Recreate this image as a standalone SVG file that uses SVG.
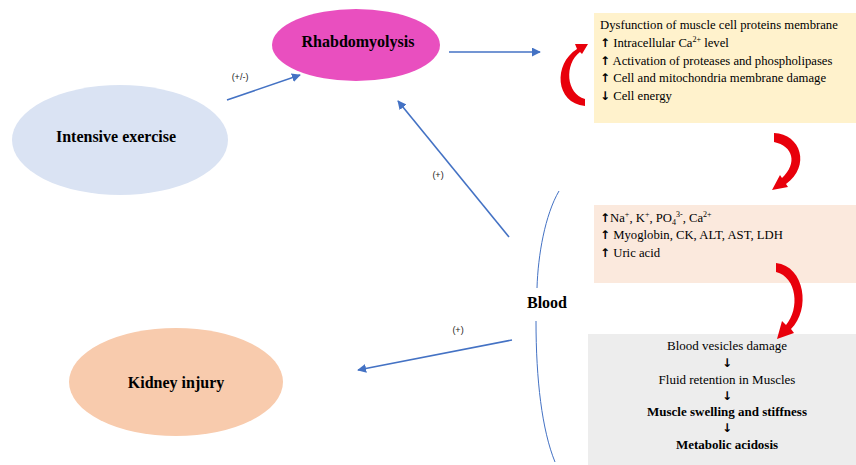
<svg xmlns="http://www.w3.org/2000/svg" width="856" height="465" viewBox="0 0 856 465">
<defs>
<style>
.t{font-family:"Liberation Serif","Times New Roman",serif;fill:#000}
.b{font-weight:bold}
.s{font-size:12.7px}
.g{font-size:13px}
.n{font-size:16px;font-weight:bold}
.ar{font-family:"DejaVu Sans",sans-serif;font-weight:bold;font-size:12px}
.lab{font-family:"Liberation Sans",Arial,sans-serif;font-size:9px;fill:#222}
.con{stroke:#4472C4;stroke-width:1.6;fill:none}
.red{fill:#E8000B}
</style>
<marker id="ah" viewBox="0 0 10 10" refX="9" refY="5" markerWidth="9" markerHeight="9" markerUnits="userSpaceOnUse" orient="auto">
<path d="M0,0 L10,5 L0,10 Z" fill="#4472C4"/>
</marker>
</defs>
<rect width="856" height="465" fill="#fff"/>

<g id="box-cell">
<rect x="594" y="13" width="262" height="110" fill="#FFF2CC"/>
<text class="t s" x="600" y="29">Dysfunction of muscle cell proteins membrane</text>
<text class="t s" x="600" y="47"><tspan class="ar">↑</tspan> Intracellular Ca<tspan font-size="8" dy="-5">2+</tspan><tspan dy="5"> level</tspan></text>
<text class="t s" x="600" y="65"><tspan class="ar">↑</tspan> Activation of proteases and phospholipases</text>
<text class="t s" x="600" y="82"><tspan class="ar">↑</tspan> Cell and mitochondria  membrane damage</text>
<text class="t s" x="600" y="100"><tspan class="ar">↓</tspan> Cell energy</text>
</g>

<g id="box-blood">
<rect x="594" y="205" width="262" height="78" fill="#FBE9DD"/>
<text class="t s" x="600" y="222"><tspan class="ar">↑</tspan>Na<tspan font-size="8" dy="-5">+</tspan><tspan dy="5">, K</tspan><tspan font-size="8" dy="-5">+</tspan><tspan dy="5">, PO</tspan><tspan font-size="8" dy="3">4</tspan><tspan font-size="8" dy="-8">3-</tspan><tspan dy="5">, Ca</tspan><tspan font-size="8" dy="-5">2+</tspan></text>
<text class="t s" x="600" y="239"><tspan class="ar">↑</tspan> Myoglobin,  CK, ALT, AST, LDH</text>
<text class="t s" x="600" y="257"><tspan class="ar">↑</tspan> Uric acid</text>
</g>

<g id="box-effects">
<rect x="588" y="334" width="268" height="131" fill="#EDEDED"/>
<text class="t g" x="727" y="350" text-anchor="middle">Blood vesicles damage</text>
<text class="ar" x="727" y="367" text-anchor="middle">↓</text>
<text class="t g" x="727" y="384" text-anchor="middle">Fluid retention in Muscles</text>
<text class="ar" x="727" y="400" text-anchor="middle">↓</text>
<text class="t g b" x="727" y="416" text-anchor="middle">Muscle swelling and stiffness</text>
<text class="ar" x="727" y="432" text-anchor="middle">↓</text>
<text class="t g b" x="727" y="449" text-anchor="middle">Metabolic acidosis</text>
</g>

<g id="rhabdomyolysis">
<ellipse cx="356" cy="45" rx="84" ry="36" fill="#E94FBF"/>
<text class="t n" x="358" y="47" text-anchor="middle">Rhabdomyolysis</text>
</g>

<g id="intensive-exercise">
<ellipse cx="120" cy="140" rx="108" ry="55" fill="#DAE3F3"/>
<text class="t n" x="116" y="142" text-anchor="middle">Intensive exercise</text>
</g>

<g id="kidney-injury">
<ellipse cx="176" cy="382" rx="107" ry="54" fill="#F8CBAD"/>
<text class="t n" x="176" y="388" text-anchor="middle">Kidney injury</text>
</g>

<g id="blood">
<text class="t n" x="547" y="308" text-anchor="middle">Blood</text>
<path d="M559 191 C545 215 538 255 537 288 M536 321 C536 380 542 430 555 462" fill="none" stroke="#4472C4" stroke-width="1"/>
</g>

<g id="connectors">
<line class="con" x1="449" y1="52" x2="540" y2="52" marker-end="url(#ah)"/>
<line class="con" x1="227" y1="100" x2="300" y2="75" marker-end="url(#ah)"/>
<line class="con" x1="509" y1="237" x2="398" y2="101" marker-end="url(#ah)"/>
<line class="con" x1="512" y1="340" x2="358" y2="370" marker-end="url(#ah)"/>
<text class="lab" x="240" y="80" text-anchor="middle">(+/-)</text>
<text class="lab" x="438" y="178" text-anchor="middle">(+)</text>
<text class="lab" x="458" y="333" text-anchor="middle">(+)</text>
<path class="red" d="M585 106 C555 103 553 64 577 49 L575 44 L588 44 L582 54 L580 52 C564 64 566 94 585 99 Z"/>
<path class="red" d="M774 133 C801 134 811 166 786 184 L788 187 L772 190 L780 175 L782 178 C798 163 793 146 774 142 Z"/>
<path class="red" d="M776 263 C805 266 811 310 791 329 L794 333 L777 339 L782 321 L786 325 C800 309 797 277 776 272 Z"/>
</g>
</svg>
